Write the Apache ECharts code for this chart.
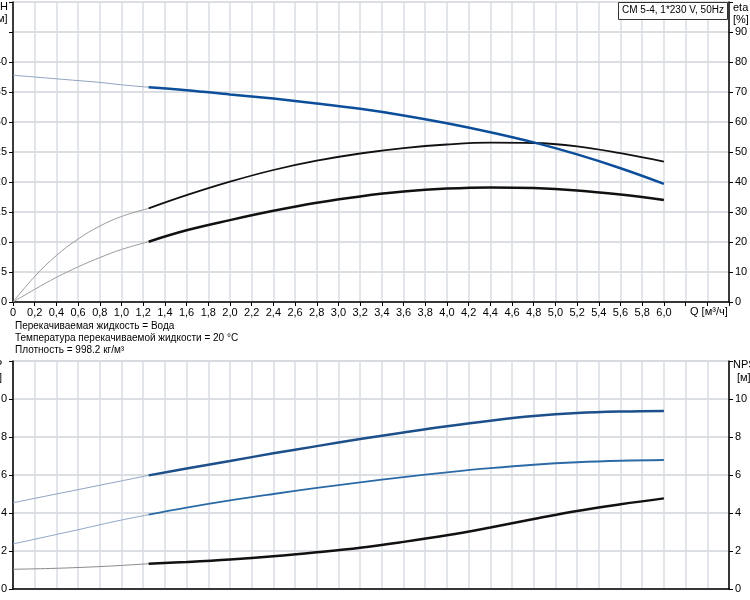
<!DOCTYPE html>
<html>
<head>
<meta charset="utf-8">
<script src="https://cdn.jsdelivr.net/npm/echarts@6/dist/echarts.min.js"></script>
<style>
  html, body { margin: 0; padding: 0; background: #fff; }
  #chart { width: 750px; height: 600px; }
</style>
</head>
<body>
<div id="chart"></div>
<script>
// расход Q, м3/ч: тонкий начальный участок и основной участок кривых
var qStart = [0, 0.2, 0.4, 0.6, 0.8, 1.0, 1.25];
var qMain = [1.25, 1.6, 2.0, 2.4, 2.8, 3.2, 3.6, 4.0, 4.4, 4.8, 5.2, 5.6, 6.0];

// напор H, м
var hStart = [37.8, 37.5, 37.2, 36.9, 36.6, 36.2, 35.8];
var hMain = [35.8, 35.3, 34.6, 33.9, 33.1, 32.2, 31.1, 29.8, 28.3, 26.6, 24.6, 22.3, 19.7];

// КПД, %
var etaPumpStart = [0, 8.5, 15.5, 21, 25.3, 28.5, 31.2];
var etaPumpMain = [31.2, 35.6, 40.1, 44.0, 47.1, 49.5, 51.3, 52.5, 53.1, 53.0, 51.9, 49.6, 46.8];
var etaTotalStart = [0, 4.2, 8.2, 11.7, 14.8, 17.5, 20.1];
var etaTotalMain = [20.1, 23.9, 27.3, 30.4, 33.1, 35.2, 36.8, 37.8, 38.2, 38.0, 37.2, 35.8, 34.0];

// мощность P1, P2, кВт
var p1Start = [0.454, 0.477, 0.500, 0.523, 0.546, 0.569, 0.598];
var p1Main = [0.598, 0.634, 0.674, 0.714, 0.752, 0.789, 0.824, 0.857, 0.886, 0.910, 0.926, 0.934, 0.937];
var p2Start = [0.237, 0.262, 0.287, 0.312, 0.338, 0.363, 0.391];
var p2Main = [0.391, 0.428, 0.466, 0.500, 0.532, 0.561, 0.589, 0.614, 0.636, 0.654, 0.667, 0.675, 0.679];

// NPSH, м
var npshStart = [1.04, 1.06, 1.09, 1.13, 1.18, 1.24, 1.33];
var npshMain = [1.33, 1.42, 1.55, 1.72, 1.93, 2.17, 2.48, 2.83, 3.24, 3.68, 4.11, 4.46, 4.77];

var infoLines = [
    'Перекачиваемая жидкость = Вода',
    'Температура перекачиваемой жидкости = 20 °C',
    'Плотность = 998.2 кг/м³'
];

function pairs(q, v) {
    return q.map(function (x, i) { return [x, v[i]]; });
}

var FONT = '"Liberation Sans", Arial, sans-serif';
var TXT = '10px ' + FONT;
var GRID_COLOR = '#d9dde2';

function commaNum(v) {
    return v === 0 ? '0' : v.toFixed(1).replace('.', ',');
}

function xAxisCfg(gridIndex, showLabels) {
    return {
        gridIndex: gridIndex,
        type: 'value',
        min: 0,
        max: 6.6,
        interval: 0.2,
        axisLine: { onZero: false, lineStyle: { color: '#000', width: 1.5 } },
        axisTick: { show: showLabels, length: 4, lineStyle: { color: '#000' } },
        axisLabel: {
            show: showLabels,
            margin: 5,
            color: '#000',
            fontSize: 11,
            fontFamily: FONT,
            formatter: function (v) { return v > 6.01 ? '' : commaNum(v); }
        },
        splitLine: { show: true, lineStyle: { color: GRID_COLOR, width: 1.5 } }
    };
}

function yAxisCfg(gridIndex, pos, max, interval, labelMax, fmt) {
    return {
        gridIndex: gridIndex,
        type: 'value',
        position: pos,
        min: 0,
        max: max,
        interval: interval,
        axisLine: { show: true, onZero: false, lineStyle: { color: '#000', width: 1.5 } },
        axisTick: { show: true, length: 4, lineStyle: { color: '#000' } },
        axisLabel: {
            margin: 6,
            color: '#000',
            fontSize: 11,
            fontFamily: FONT,
            formatter: function (v) { return v > labelMax + 1e-6 ? '' : fmt(v); }
        },
        splitLine: { show: true, lineStyle: { color: GRID_COLOR, width: 1.5 } }
    };
}

function line(name, xi, yi, data, color, width, z) {
    return {
        name: name,
        type: 'line',
        xAxisIndex: xi,
        yAxisIndex: yi,
        data: data,
        smooth: 0.4,
        showSymbol: false,
        symbol: 'none',
        z: z || 3,
        lineStyle: { color: color, width: width }
    };
}

var chart = echarts.init(document.getElementById('chart'));

var p1Data = pairs(qMain, p1Main);
var p2Data = pairs(qMain, p2Main);
var lastIdx = qMain.length - 1;
p1Data[lastIdx] = {
    value: p1Data[lastIdx],
    label: { show: true, formatter: 'P1', position: 'top', distance: 2, offset: [-8, 0],
             color: '#3a6ea8', fontSize: 11, fontFamily: FONT }
};
p2Data[lastIdx] = {
    value: p2Data[lastIdx],
    label: { show: true, formatter: 'P2', position: 'bottom', distance: 2, offset: [-8, 0],
             color: '#3a6ea8', fontSize: 11, fontFamily: FONT }
};

var option = {
    animation: false,
    backgroundColor: '#fff',
    grid: [
        { left: 13, top: 2, width: 716, height: 300, containLabel: false, outerBoundsMode: 'none' },
        { left: 13, top: 361, width: 716, height: 228, containLabel: false, outerBoundsMode: 'none',
          show: true, borderColor: '#8c8c8c', borderWidth: 1 }
    ],
    xAxis: [xAxisCfg(0, true), xAxisCfg(1, false)],
    yAxis: [
        yAxisCfg(0, 'left', 50, 5, 40, function (v) { return String(v); }),
        yAxisCfg(0, 'right', 100, 10, 90, function (v) { return String(v); }),
        yAxisCfg(1, 'left', 1.2, 0.2, 1.0, commaNum),
        yAxisCfg(1, 'right', 12, 2, 10, function (v) { return String(v); })
    ],
    graphic: [
        { type: 'text', left: 0, top: 1, style: { text: 'H', fill: '#000', font: '11px ' + FONT } },
        { type: 'text', left: -6, top: 13, style: { text: '[м]', fill: '#000', font: '11px ' + FONT } },
        { type: 'text', left: 733, top: 2, style: { text: 'eta', fill: '#000', font: '11px ' + FONT } },
        { type: 'text', left: 733, top: 14, style: { text: '[%]', fill: '#000', font: '11px ' + FONT } },
        { type: 'text', left: 690, top: 306, style: { text: 'Q [м³/ч]', fill: '#000', font: '11px ' + FONT } },
        { type: 'rect', shape: { x: 618.5, y: 2.5, width: 109, height: 17 },
          style: { fill: '#fff', stroke: '#333', lineWidth: 1 }, z: 10 },
        { type: 'text', left: 622, top: 5, z: 11, style: { text: 'CM 5-4, 1*230 V, 50Hz', fill: '#000', font: TXT } },
        { type: 'text', left: 15, top: 321, style: { text: infoLines[0], fill: '#000', font: TXT } },
        { type: 'text', left: 15, top: 333, style: { text: infoLines[1], fill: '#000', font: TXT } },
        { type: 'text', left: 15, top: 345, style: { text: infoLines[2], fill: '#000', font: TXT } },
        { type: 'text', left: -5, top: 359, style: { text: 'P', fill: '#000', font: '11px ' + FONT } },
        { type: 'text', left: -21, top: 372, style: { text: '[кВт]', fill: '#000', font: '11px ' + FONT } },
        { type: 'text', left: 733, top: 359, style: { text: 'NPSH', fill: '#000', font: '11px ' + FONT } },
        { type: 'text', left: 737, top: 372, style: { text: '[м]', fill: '#000', font: '11px ' + FONT } }
    ],
    series: [
        line('H start', 0, 0, pairs(qStart, hStart), '#8fa4c0', 1),
        line('H', 0, 0, pairs(qMain, hMain), '#0d4e9a', 2.5, 4),
        line('eta start', 0, 1, pairs(qStart, etaPumpStart), '#9a9a9a', 1),
        line('eta', 0, 1, pairs(qMain, etaPumpMain), '#111', 1.8),
        line('eta total start', 0, 1, pairs(qStart, etaTotalStart), '#9a9a9a', 1),
        line('eta total', 0, 1, pairs(qMain, etaTotalMain), '#111', 2.5),
        line('P1 start', 1, 2, pairs(qStart, p1Start), '#8ea3c2', 1),
        line('P1', 1, 2, p1Data, '#1d4f8a', 2.5),
        line('P2 start', 1, 2, pairs(qStart, p2Start), '#8ea6c8', 1),
        line('P2', 1, 2, p2Data, '#2b6aa6', 1.8),
        line('NPSH start', 1, 3, pairs(qStart, npshStart), '#8a8a8a', 1),
        line('NPSH', 1, 3, pairs(qMain, npshMain), '#111', 2.5)
    ]
};

chart.setOption(option);
</script>
</body>
</html>
